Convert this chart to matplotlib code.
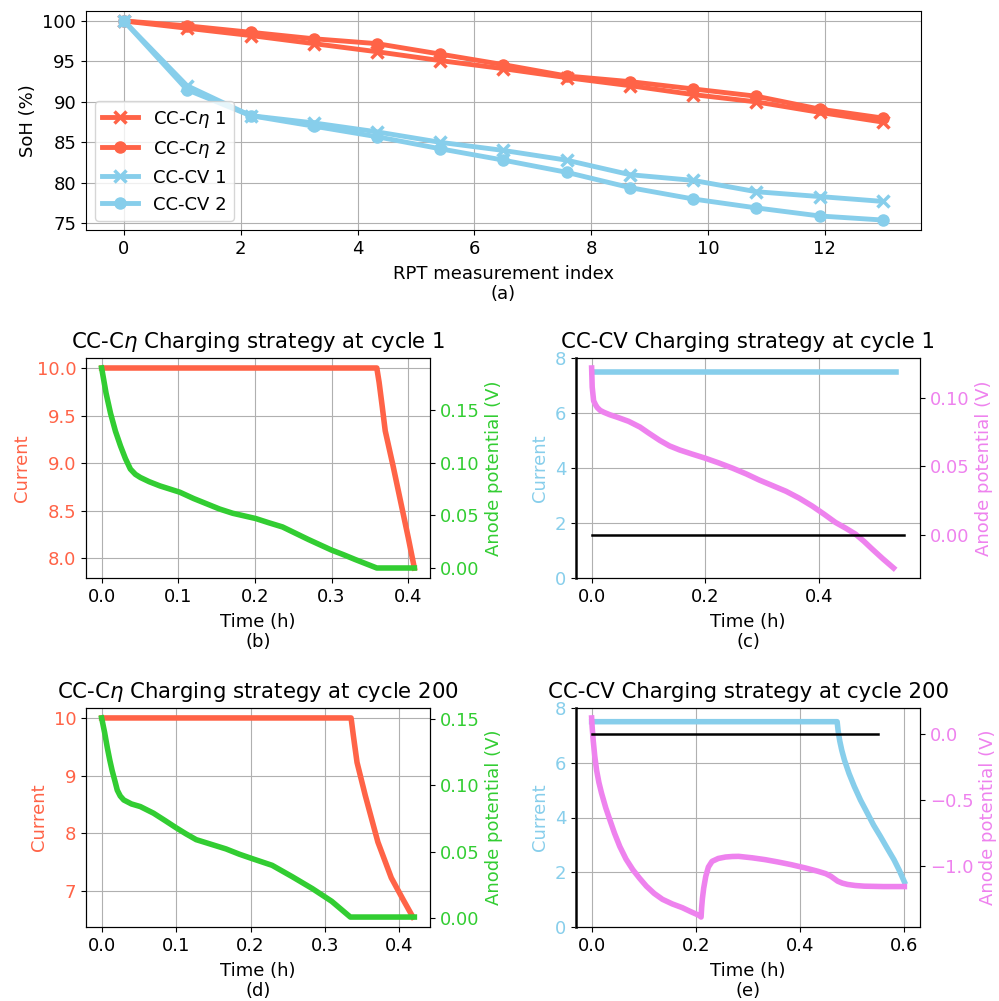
import matplotlib
matplotlib.use("Agg")
import matplotlib.pyplot as plt

plt.rcParams['font.size'] = 13
plt.rcParams['font.family'] = ['DejaVu Sans']

RED = 'tomato'
BLUE = 'skyblue'
GREEN = 'limegreen'
PINK = 'violet'

# ---- (a) SoH ----
rpt_index = [0, 1.08, 2.17, 3.25, 4.33, 5.42, 6.5, 7.58, 8.67, 9.75, 10.83, 11.92, 13.0]
soh_cceta_1 = [100, 99.1, 98.2, 97.2, 96.2, 95.1, 94.1, 93.0, 92.0, 90.9, 90.0, 88.7, 87.5]
soh_cceta_2 = [100, 99.4, 98.6, 97.8, 97.2, 95.9, 94.6, 93.2, 92.5, 91.6, 90.7, 89.1, 88.0]
soh_cccv_1 = [100, 92.0, 88.3, 87.4, 86.3, 85.0, 84.0, 82.8, 81.0, 80.3, 78.9, 78.3, 77.7]
soh_cccv_2 = [100, 91.5, 88.3, 87.0, 85.7, 84.2, 82.8, 81.3, 79.4, 78.0, 76.9, 75.9, 75.4]

# ---- (b) CC-Ceta cycle 1 ----
b_time_i = [0.0, 0.359, 0.362, 0.366, 0.370, 0.380, 0.390, 0.400, 0.408]
b_current = [10.0, 10.0, 9.85, 9.6, 9.34, 8.98, 8.6, 8.22, 7.9]
b_time_v = [0.0, 0.0058, 0.0116, 0.018, 0.0246, 0.031, 0.0375, 0.044, 0.0505, 0.062, 0.076,
            0.089, 0.102, 0.12, 0.137, 0.154, 0.171, 0.186, 0.201, 0.218, 0.236, 0.253,
            0.270, 0.285, 0.300, 0.316, 0.331, 0.345, 0.359, 0.408]
b_anode = [0.190, 0.166, 0.147, 0.130, 0.116, 0.104, 0.094, 0.089, 0.086, 0.082, 0.078,
           0.075, 0.072, 0.066, 0.061, 0.056, 0.052, 0.0495, 0.047, 0.043, 0.039, 0.033,
           0.027, 0.022, 0.017, 0.0125, 0.008, 0.004, 0.0, 0.0]

# ---- (c) CC-CV cycle 1 ----
c_time_i = [0.0, 0.535]
c_current = [7.5, 7.5]
c_time_v = [0.0, 0.001, 0.0035, 0.007, 0.01, 0.015, 0.0215, 0.032, 0.045, 0.065, 0.085,
            0.10, 0.12, 0.137, 0.155, 0.177, 0.20, 0.224, 0.248, 0.272, 0.295, 0.318,
            0.342, 0.365, 0.388, 0.409, 0.429, 0.447, 0.464, 0.479, 0.493, 0.512, 0.531]
c_anode = [0.122, 0.108, 0.098, 0.095, 0.093, 0.091, 0.0896, 0.0878, 0.086, 0.083, 0.0788,
           0.0745, 0.069, 0.065, 0.062, 0.059, 0.056, 0.0525, 0.0487, 0.0445, 0.040, 0.036,
           0.0318, 0.0268, 0.021, 0.015, 0.009, 0.0048, 0.0005, -0.0048, -0.0103, -0.0175,
           -0.0243]

# ---- (d) CC-Ceta cycle 200 ----
d_time_i = [0.0, 0.335, 0.338, 0.343, 0.354, 0.371, 0.389, 0.405, 0.418]
d_current = [10.0, 10.0, 9.7, 9.23, 8.66, 7.85, 7.23, 6.85, 6.55]
d_time_v = [0.0, 0.004, 0.0076, 0.011, 0.0142, 0.018, 0.021, 0.025, 0.0297, 0.04, 0.052,
            0.0697, 0.085, 0.10, 0.113, 0.127, 0.147, 0.167, 0.185, 0.203, 0.229, 0.256,
            0.283, 0.309, 0.334, 0.42]
d_anode = [0.151, 0.140, 0.1286, 0.119, 0.111, 0.103, 0.0964, 0.092, 0.089, 0.086, 0.084,
           0.079, 0.0735, 0.068, 0.0635, 0.059, 0.0555, 0.052, 0.048, 0.0445, 0.0396, 0.031,
           0.022, 0.0124, 0.0005, 0.0005]

# ---- (e) CC-CV cycle 200 ----
e_time_i = [0.0, 0.471, 0.473, 0.476, 0.480, 0.485, 0.494, 0.504, 0.516, 0.529, 0.541,
            0.554, 0.567, 0.580, 0.590, 0.600]
e_current = [7.5, 7.5, 7.15, 6.8, 6.45, 6.1, 5.6, 5.13, 4.63, 4.16, 3.72, 3.31, 2.88, 2.46,
             2.08, 1.65]
e_time_v = [0.0, 0.001, 0.003, 0.006, 0.0095, 0.014, 0.019, 0.027, 0.035, 0.044, 0.054,
            0.066, 0.079, 0.092, 0.105, 0.12, 0.136, 0.155, 0.174, 0.19, 0.206, 0.21, 0.211,
            0.2125, 0.215, 0.219, 0.224, 0.231, 0.243, 0.257, 0.27, 0.282, 0.308, 0.333, 0.358,
            0.383, 0.41, 0.434, 0.449, 0.459, 0.466, 0.472, 0.481, 0.491, 0.506, 0.523, 0.56,
            0.600]
e_anode = [0.12, 0.05, -0.05, -0.17, -0.276, -0.37, -0.45, -0.56, -0.653, -0.755, -0.854,
           -0.95, -1.03, -1.095, -1.155, -1.21, -1.255, -1.29, -1.318, -1.348, -1.376, -1.389,
           -1.32, -1.25, -1.17, -1.08, -1.01, -0.967, -0.945, -0.934, -0.93, -0.929, -0.94,
           -0.954, -0.972, -0.992, -1.017, -1.042, -1.06, -1.08, -1.1, -1.117, -1.132, -1.142,
           -1.15, -1.155, -1.158, -1.158]

ref_time = [0.0, 0.55]
ref_zero = [0.0, 0.0]

W, H = 999, 1001
fig = plt.figure(figsize=(W / 100, H / 100), dpi=100)


def pos(x0, x1, y0, y1):
    return [x0 / W, 1 - y1 / H, (x1 - x0) / W, (y1 - y0) / H]


# Top panel
ax = fig.add_axes(pos(86, 921, 11, 230))
ax.plot(rpt_index, soh_cceta_1, color=RED, marker='x', lw=3.5, ms=8, mew=2.5, label=r'CC-C$\eta$ 1')
ax.plot(rpt_index, soh_cceta_2, color=RED, marker='o', lw=3.5, ms=8, label=r'CC-C$\eta$ 2')
ax.plot(rpt_index, soh_cccv_1, color=BLUE, marker='x', lw=3.5, ms=8, mew=2.5, label='CC-CV 1')
ax.plot(rpt_index, soh_cccv_2, color=BLUE, marker='o', lw=3.5, ms=8, label='CC-CV 2')
ax.set_ylabel('SoH (%)')
ax.set_xlabel('RPT measurement index\n(a)', labelpad=5)
ax.set_xticks([0, 2, 4, 6, 8, 10, 12])
ax.grid(True)
ax.legend(loc='lower left')


def twin_panel(rect, t_i, cur, t_v, anode, ccol, vcol, title, letter, ref=False,
               ylim=None, thick_left=False):
    a = fig.add_axes(rect)
    a.plot(t_i, cur, color=ccol, lw=4)
    a.set_ylabel('Current', color=ccol)
    a.tick_params(axis='y', labelcolor=ccol)
    a.set_xlabel('Time (h)\n' + letter, labelpad=5)
    a.set_title(title, fontsize=15.3, pad=7)
    a.grid(True)
    if ylim is not None:
        a.set_ylim(*ylim)
    b = a.twinx()
    b.plot(t_v, anode, color=vcol, lw=4)
    if ref:
        b.plot(ref_time, ref_zero, color='black', lw=1.8)
    b.set_ylabel('Anode potential (V)', color=vcol)
    b.tick_params(axis='y', labelcolor=vcol)
    if thick_left:
        a.spines['left'].set_linewidth(2.0)
        a.spines['left'].set_color('#333333')
    return a, b


ab, bb = twin_panel(pos(86, 430, 358, 578), b_time_i, b_current, b_time_v, b_anode, RED, GREEN,
                    r'CC-C$\eta$ Charging strategy at cycle 1', '(b)')
ab.set_yticks([8.0, 8.5, 9.0, 9.5, 10.0])
ab.set_xticks([0.0, 0.1, 0.2, 0.3, 0.4])
bb.set_yticks([0.0, 0.05, 0.10, 0.15])

ac, bc = twin_panel(pos(576, 920, 358, 578), c_time_i, c_current, c_time_v, c_anode, BLUE, PINK,
                    'CC-CV Charging strategy at cycle 1', '(c)', ref=True, ylim=(0, 8),
                    thick_left=True)
ac.set_xticks([0.0, 0.2, 0.4])
bc.set_yticks([0.0, 0.05, 0.10])

ad, bd = twin_panel(pos(86, 430, 708, 927), d_time_i, d_current, d_time_v, d_anode, RED, GREEN,
                    r'CC-C$\eta$ Charging strategy at cycle 200', '(d)')
ad.set_yticks([7, 8, 9, 10])
ad.set_xticks([0.0, 0.1, 0.2, 0.3, 0.4])
bd.set_yticks([0.0, 0.05, 0.10, 0.15])

ae, be = twin_panel(pos(576, 920, 708, 927), e_time_i, e_current, e_time_v, e_anode, BLUE, PINK,
                    'CC-CV Charging strategy at cycle 200', '(e)', ref=True, ylim=(0, 8),
                    thick_left=True)
ae.set_xticks([0.0, 0.2, 0.4, 0.6])
be.set_yticks([-1.0, -0.5, 0.0])

fig.savefig('out.png', dpi=100)
